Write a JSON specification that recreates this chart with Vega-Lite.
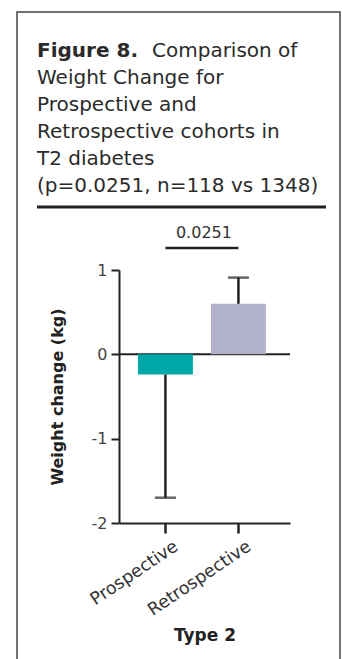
{
  "$schema": "https://vega.github.io/schema/vega-lite/v6.json",
  "width": 323,
  "height": 647,
  "autosize": {"type": "none"},
  "padding": {"left": 17, "top": 12, "right": 3, "bottom": 0},
  "background": "white",
  "config": {"view": {"stroke": null}, "font": "DejaVu Sans"},
  "title": {
    "text": "Figure 8.",
    "subtitle": ["\u200b\u2003\u2003\u2003\u2003\u2003\u2002\u2005Comparison of", "Weight Change for", "Prospective and", "Retrospective cohorts in", "T2 diabetes", "(p=0.0251, n=118 vs 1348)"],
    "anchor": "start",
    "frame": "group",
    "dx": 20,
    "offset": -185,
    "font": "DejaVu Sans",
    "fontSize": 20,
    "fontWeight": "bold",
    "color": "#2b2b2b",
    "subtitleFont": "DejaVu Sans",
    "subtitleFontSize": 20,
    "subtitleFontWeight": "normal",
    "subtitleColor": "#2b2b2b",
    "subtitleLineHeight": 27,
    "subtitlePadding": -20
  },
  "resolve": {"scale": {"x": "independent", "y": "independent"}, "axis": {"x": "independent", "y": "independent"}},
  "layer": [
    {
      "data": {"values": [{"part": "frame"}]},
      "mark": {"type": "rect", "fillOpacity": 0, "stroke": "#444444", "strokeWidth": 1.5},
      "encoding": {
        "x": {"datum": 0, "type": "quantitative", "scale": {"domain": [0, 1], "range": [0, 323]}, "axis": null},
        "x2": {"datum": 1},
        "y": {"datum": 0, "type": "quantitative", "scale": {"domain": [0, 1], "range": [0, 660]}, "axis": null},
        "y2": {"datum": 1}
      }
    },
    {
      "data": {"values": [{"part": "separator"}]},
      "mark": {"type": "rule", "stroke": "#222222", "strokeWidth": 3},
      "encoding": {
        "x": {"datum": 0, "type": "quantitative", "scale": {"domain": [0, 1], "range": [20, 309]}, "axis": null},
        "x2": {"datum": 1},
        "y": {"datum": 0, "type": "quantitative", "scale": {"domain": [0, 1], "range": [195, 196]}, "axis": null}
      }
    },
    {
      "data": {"values": [{"part": "zero"}]},
      "mark": {"type": "rule", "stroke": "#222222", "strokeWidth": 2},
      "encoding": {
        "x": {"datum": 0, "type": "quantitative", "scale": {"domain": [0, 1], "range": [102, 273]}, "axis": null},
        "x2": {"datum": 1},
        "y": {"datum": 0, "type": "quantitative", "scale": {"domain": [-2, 1], "range": [511, 258], "nice": false, "zero": false}, "axis": null}
      }
    },
    {
      "data": {"values": [
        {"group": "Prospective", "mean": -0.24, "err": -1.70},
        {"group": "Retrospective", "mean": 0.60, "err": 0.91}
      ]},
      "encoding": {
        "x": {
          "field": "group", "type": "nominal", "sort": null, "title": "Type 2",
          "scale": {"type": "band", "domain": ["Prospective", "Retrospective"], "range": [102, 273], "paddingInner": 0.2466, "paddingOuter": 0.2945, "align": 0.44},
          "axis": {
            "orient": "bottom", "offset": -136, "domainColor": "#222222", "domainWidth": 2,
            "tickColor": "#222222", "tickWidth": 2.5, "tickSize": 10,
            "labelAngle": -34, "labelFontSize": 17.5, "labelColor": "#333333", "labelPadding": 4, "labelOffset": 6,
            "titleFontSize": 17, "titleFontWeight": "bold", "titleColor": "#222222", "titlePadding": 9, "grid": false
          }
        }
      },
      "layer": [
        {
          "mark": {"type": "bar"},
          "encoding": {
            "y": {
              "field": "mean", "type": "quantitative", "title": "Weight change (kg)",
              "scale": {"domain": [-2, 1], "range": [511, 258], "nice": false, "zero": false},
              "axis": {
                "orient": "left", "offset": -102, "values": [-2, -1, 0, 1],
                "labelExpr": "datum.value < 0 ? '-' + abs(datum.value) : '' + datum.value",
                "domainColor": "#222222", "domainWidth": 2, "tickColor": "#222222", "tickWidth": 2, "tickSize": 8,
                "labelFontSize": 16, "labelColor": "#444444", "labelPadding": 4,
                "titleFontSize": 16, "titleFontWeight": "bold", "titleColor": "#222222", "titlePadding": 26, "grid": false
              }
            },
            "y2": {"datum": 0},
            "color": {"field": "group", "type": "nominal", "scale": {"domain": ["Prospective", "Retrospective"], "range": ["#00A9A8", "#B1B1C9"]}, "legend": null}
          }
        },
        {
          "mark": {"type": "rule", "stroke": "#222222", "strokeWidth": 2.5},
          "encoding": {
            "y": {"field": "mean", "type": "quantitative", "title": "Weight change (kg)"},
            "y2": {"field": "err"}
          }
        },
        {
          "mark": {"type": "tick", "color": "#222222", "size": 21, "thickness": 2.5},
          "encoding": {
            "y": {"field": "err", "type": "quantitative", "title": "Weight change (kg)"}
          }
        },
        {
          "data": {"values": [{"p": 0.0251}]},
          "mark": {"type": "rule", "stroke": "#222222", "strokeWidth": 2.5},
          "encoding": {
            "x": {"datum": "Prospective", "type": "nominal", "bandPosition": 0.5},
            "x2": {"datum": "Retrospective"},
            "y": {"datum": 1.26, "type": "quantitative"}
          }
        },
        {
          "data": {"values": [{"p": 0.0251}]},
          "mark": {"type": "text", "fontSize": 16, "color": "#333333", "baseline": "alphabetic", "align": "center"},
          "encoding": {
            "x": {"datum": "Prospective", "type": "nominal", "bandPosition": 1.2},
            "y": {"datum": 1.38, "type": "quantitative"},
            "text": {"field": "p", "type": "quantitative", "format": ".4f"}
          }
        }
      ]
    }
  ]
}
